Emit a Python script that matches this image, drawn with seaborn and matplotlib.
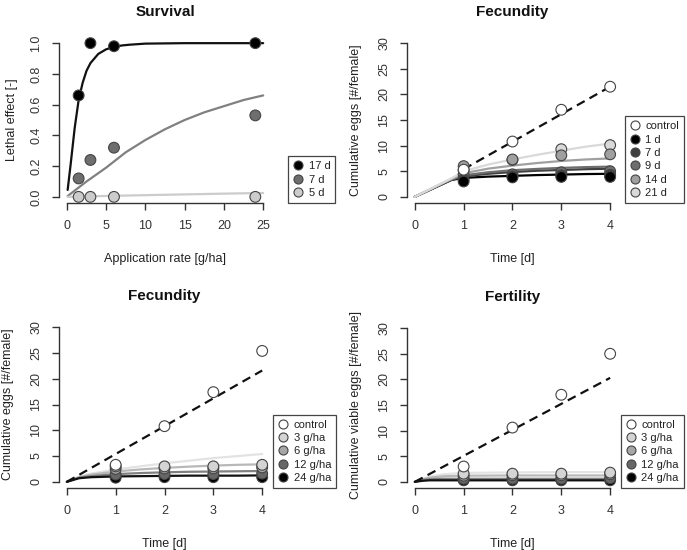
import pandas as pd
import seaborn as sns
import matplotlib.pyplot as plt
from matplotlib.lines import Line2D

# ---------------- Survival (top left) ----------------
surv_rates = [1.5, 3, 6, 24]
surv_groups = ['17 d', '7 d', '5 d']
surv_points = {
    '17 d': [0.66, 1.0, 0.98, 1.0],
    '7 d': [0.12, 0.24, 0.32, 0.53],
    '5 d': [0.0, 0.0, 0.0, 0.0],
}
surv_fit_x = {
    '17 d': [0.1, 0.5, 1, 1.5, 2, 2.5, 3, 4, 5, 6, 7, 8, 10, 15, 20, 25],
    '7 d': [0.1, 2.5, 5, 7.5, 10, 12.5, 15, 17.5, 20, 22.5, 25],
    '5 d': [0.1, 5, 10, 15, 20, 25],
}
surv_fit_y = {
    '17 d': [0.045, 0.22, 0.45, 0.63, 0.74, 0.82, 0.87, 0.93, 0.96, 0.975, 0.985, 0.99, 0.997, 1.0, 1.0, 1.0],
    '7 d': [0.005, 0.1, 0.19, 0.29, 0.37, 0.44, 0.5, 0.55, 0.59, 0.63, 0.66],
    '5 d': [0.0, 0.006, 0.011, 0.016, 0.021, 0.025],
}
surv_colors = {'17 d': '#000000', '7 d': '#6e6e6e', '5 d': '#cccccc'}
surv_line_colors = {'17 d': '#111111', '7 d': '#808080', '5 d': '#cccccc'}

# ---------------- Fecundity by age (top right) ----------------
days = [1, 2, 3, 4]
age_groups = ['control', '1 d', '7 d', '9 d', '14 d', '21 d']
age_points = {
    'control': [5.3, 10.8, 17.0, 21.5],
    '1 d': [3.0, 3.8, 3.9, 3.9],
    '7 d': [3.4, 4.0, 4.2, 4.3],
    '9 d': [4.4, 4.4, 4.8, 5.0],
    '14 d': [6.0, 7.3, 8.1, 8.3],
    '21 d': [5.2, 7.2, 9.3, 10.1],
}
age_fit_x = [0, 0.75, 1, 1.5, 2, 2.5, 3, 3.5, 4]
age_fit_y = {
    '1 d': [0, 3.3, 3.7, 3.95, 4.1, 4.25, 4.35, 4.45, 4.5],
    '7 d': [0, 3.3, 4.0, 4.5, 4.85, 5.1, 5.25, 5.4, 5.5],
    '9 d': [0, 3.4, 4.2, 4.8, 5.2, 5.45, 5.65, 5.8, 5.9],
    '14 d': [0, 3.5, 4.6, 5.5, 6.1, 6.6, 7.0, 7.3, 7.5],
    '21 d': [0, 3.6, 5.0, 6.3, 7.3, 8.2, 9.0, 9.8, 10.4],
}
age_ctrl_x = [1, 4]
age_ctrl_y = [5.4, 21.5]
age_colors = {'control': '#ffffff', '1 d': '#000000', '7 d': '#404040',
              '9 d': '#6e6e6e', '14 d': '#a0a0a0', '21 d': '#d9d9d9'}

# ---------------- Fecundity / Fertility by rate (bottom) ----------------
rate_groups = ['control', '3 g/ha', '6 g/ha', '12 g/ha', '24 g/ha']
fec_points = {
    'control': [3.3, 10.8, 17.4, 25.4],
    '3 g/ha': [3.0, 3.0, 3.0, 3.3],
    '6 g/ha': [2.5, 2.6, 2.6, 2.8],
    '12 g/ha': [1.4, 1.5, 1.5, 1.6],
    '24 g/ha': [0.8, 0.9, 0.9, 0.9],
}
fec_fit_x = [0, 0.25, 0.5, 1, 1.5, 2, 2.5, 3, 3.5, 4]
fec_fit_y = {
    '3 g/ha': [0, 1.0, 1.6, 2.4, 3.0, 3.6, 4.1, 4.6, 5.0, 5.4],
    '6 g/ha': [0, 0.9, 1.4, 2.0, 2.4, 2.7, 2.95, 3.15, 3.3, 3.4],
    '12 g/ha': [0, 0.8, 1.1, 1.5, 1.7, 1.85, 1.95, 2.0, 2.05, 2.1],
    '24 g/ha': [0, 0.7, 0.9, 1.05, 1.1, 1.15, 1.2, 1.2, 1.2, 1.25],
}
fec_ctrl_x = [0, 4]
fec_ctrl_y = [0, 21.6]

fert_points = {
    'control': [3.0, 10.6, 17.0, 25.0],
    '3 g/ha': [1.6, 1.6, 1.6, 1.8],
    '6 g/ha': [1.2, 1.3, 1.3, 1.5],
    '12 g/ha': [0.6, 0.6, 0.6, 0.7],
    '24 g/ha': [0.3, 0.3, 0.3, 0.3],
}
fert_fit_x = [0, 0.15, 0.3, 0.6, 1, 2, 3, 4]
fert_fit_y = {
    '3 g/ha': [0, 0.6, 1.0, 1.5, 1.75, 1.85, 1.9, 1.9],
    '6 g/ha': [0, 0.5, 0.8, 1.1, 1.2, 1.25, 1.25, 1.25],
    '12 g/ha': [0, 0.35, 0.5, 0.6, 0.6, 0.6, 0.6, 0.6],
    '24 g/ha': [0, 0.2, 0.3, 0.3, 0.3, 0.3, 0.3, 0.3],
}
fert_ctrl_x = [0, 4]
fert_ctrl_y = [0, 20.3]
rate_colors = {'control': '#ffffff', '3 g/ha': '#d4d4d4', '6 g/ha': '#a6a6a6',
               '12 g/ha': '#666666', '24 g/ha': '#000000'}
rate_line_colors = {'3 g/ha': '#e3e3e3', '6 g/ha': '#b8b8b8',
                    '12 g/ha': '#808080', '24 g/ha': '#111111'}

sns.set_style('ticks')
plt.rcParams['font.family'] = ['Liberation Sans', 'DejaVu Sans']
plt.rcParams['text.color'] = '#222222'
plt.rcParams['axes.labelcolor'] = '#222222'
plt.rcParams['xtick.color'] = '#333333'
plt.rcParams['ytick.color'] = '#333333'
plt.rcParams['axes.edgecolor'] = '#333333'


def long_points(xs, points, groups):
    rows = []
    for g in groups:
        for x, y in zip(xs, points[g]):
            rows.append({'x': x, 'y': y, 'group': g})
    return pd.DataFrame(rows)


def long_fits(fit_x, fit_y):
    rows = []
    for g, ys in fit_y.items():
        xs = fit_x[g] if isinstance(fit_x, dict) else fit_x
        for x, y in zip(xs, ys):
            rows.append({'x': x, 'y': y, 'group': g})
    return pd.DataFrame(rows)


def style_axis(ax, xticks, yticks, xlim, ylim, title, xlabel, ylabel,
               yfmt=None, ylabelpad=12):
    ax.set_xlim(*xlim)
    ax.set_ylim(*ylim)
    ax.set_xticks(xticks)
    ax.set_yticks(yticks)
    if yfmt:
        ax.set_yticklabels([yfmt.format(v) for v in yticks])
    ax.tick_params(direction='out', length=5, width=1, labelsize=9, pad=7)
    for lab in ax.get_yticklabels():
        lab.set_rotation(90)
        lab.set_va('center')
    ax.set_title(title, fontsize=11, fontweight='bold', pad=15, color='#111111')
    ax.set_xlabel(xlabel, fontsize=9, labelpad=15)
    ax.set_ylabel(ylabel, fontsize=9, labelpad=ylabelpad)
    for sp in ['left', 'bottom']:
        ax.spines[sp].set_linewidth(1)
    sns.despine(ax=ax, trim=True)


def add_legend(ax, groups, colors, x_anchor):
    handles = [Line2D([], [], ls='none', marker='o', markersize=6.5,
                      markerfacecolor=colors[g], markeredgecolor='#444444',
                      markeredgewidth=0.8) for g in groups]
    leg = ax.legend(handles, groups, loc='lower left', bbox_to_anchor=(x_anchor, 0),
                    fontsize=8, frameon=True, fancybox=False, framealpha=1,
                    edgecolor='#444444', handlelength=0.9, handletextpad=0.5,
                    labelspacing=0.3, borderpad=0.45, borderaxespad=0)
    leg.get_frame().set_linewidth(0.9)


fig = plt.figure(figsize=(6.87, 5.5), dpi=100)
ax_tl = fig.add_axes([0.0859, 0.6309, 0.3086, 0.3018])
ax_tr = fig.add_axes([0.5924, 0.6309, 0.3071, 0.3018])
ax_bl = fig.add_axes([0.0859, 0.1127, 0.3071, 0.3036])
ax_br = fig.add_axes([0.5924, 0.1127, 0.3071, 0.3018])

# Survival
fits = long_fits(surv_fit_x, surv_fit_y)
sns.lineplot(data=fits, x='x', y='y', hue='group', palette=surv_line_colors,
             estimator=None, sort=False, legend=False, lw=1.6, ax=ax_tl)
pts = long_points(surv_rates, surv_points, surv_groups[::-1])
sns.scatterplot(data=pts, x='x', y='y', hue='group', palette=surv_colors,
                s=60, edgecolor='#444444', linewidth=0.8, legend=False, ax=ax_tl, zorder=3)
style_axis(ax_tl, [0, 5, 10, 15, 20, 25], [0, 0.2, 0.4, 0.6, 0.8, 1.0],
           (-1, 26), (-0.04, 1.04), 'Survival', 'Application rate [g/ha]',
           'Lethal effect [-]', yfmt='{:.1f}', ylabelpad=9)
add_legend(ax_tl, surv_groups, surv_colors, 1.08)


def time_panel(ax, points, groups, colors, line_colors, fit_x, fit_y,
               ctrl_x, ctrl_y, title, ylabel, x_anchor):
    fits = long_fits(fit_x, fit_y)
    sns.lineplot(data=fits, x='x', y='y', hue='group', palette=line_colors,
                 estimator=None, sort=False, legend=False, lw=1.6, ax=ax)
    ctrl = pd.DataFrame({'x': ctrl_x, 'y': ctrl_y})
    sns.lineplot(data=ctrl, x='x', y='y', color='#111111', lw=1.6,
                 linestyle=(0, (4, 2.5)), ax=ax)
    pts = long_points(days, points, groups[::-1])
    sns.scatterplot(data=pts, x='x', y='y', hue='group', palette=colors,
                    s=60, edgecolor='#444444', linewidth=0.8, legend=False,
                    ax=ax, zorder=3)
    style_axis(ax, [0, 1, 2, 3, 4], [0, 5, 10, 15, 20, 25, 30],
               (-0.16, 4.16), (-1.2, 31.2), title, 'Time [d]', ylabel)
    add_legend(ax, groups, colors, x_anchor)


age_line_colors = {g: age_colors[g] for g in age_fit_y}
time_panel(ax_tr, age_points, age_groups, age_colors, age_line_colors,
           age_fit_x, age_fit_y, age_ctrl_x, age_ctrl_y, 'Fecundity',
           'Cumulative eggs [#/female]', 1.033)
time_panel(ax_bl, fec_points, rate_groups, rate_colors, rate_line_colors,
           fec_fit_x, fec_fit_y, fec_ctrl_x, fec_ctrl_y, 'Fecundity',
           'Cumulative eggs [#/female]', 1.014)
time_panel(ax_br, fert_points, rate_groups, rate_colors, rate_line_colors,
           fert_fit_x, fert_fit_y, fert_ctrl_x, fert_ctrl_y, 'Fertility',
           'Cumulative viable eggs [#/female]', 1.014)

fig.savefig('out.png', dpi=100)
